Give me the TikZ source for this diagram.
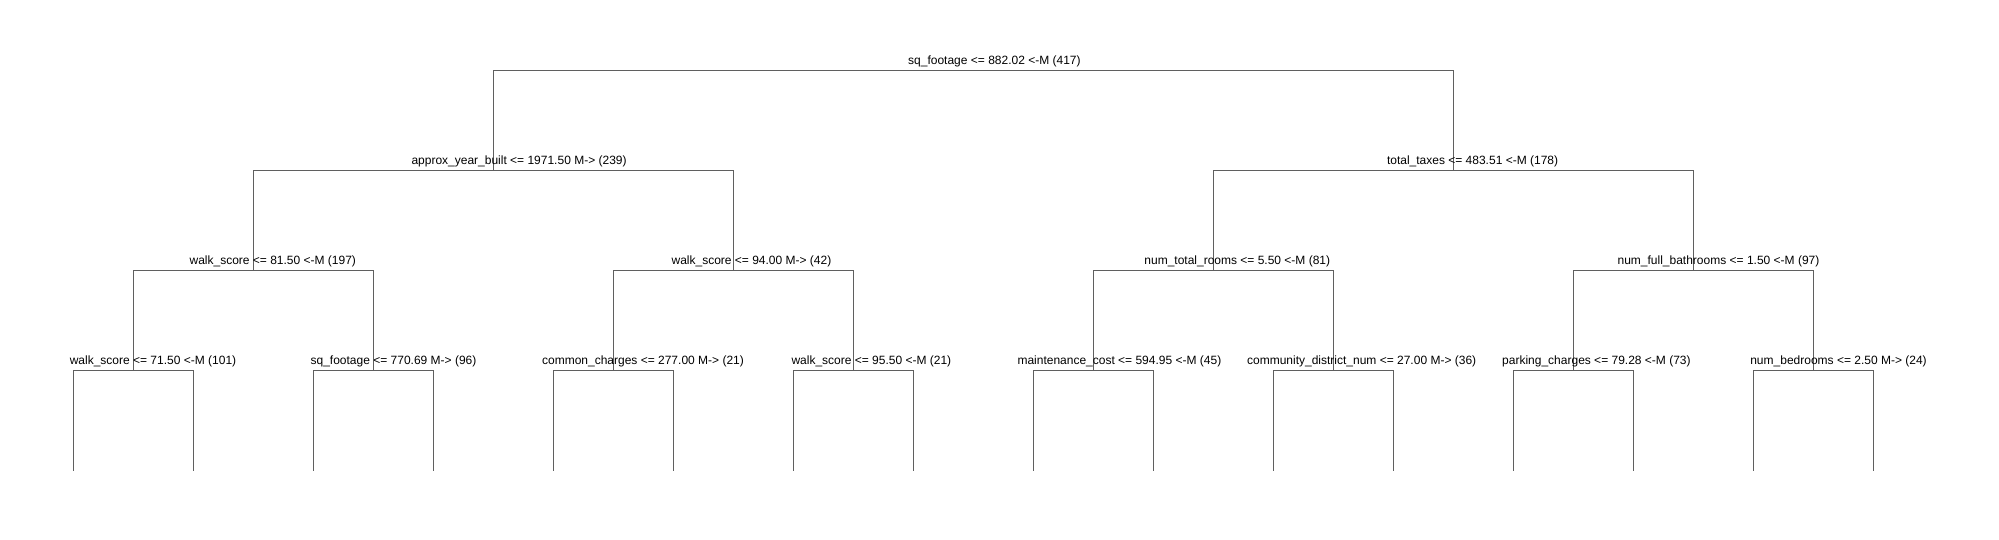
\documentclass[tikz,border=0pt]{standalone}
\usepackage{fontspec}
\setmainfont{Liberation Sans}
\definecolor{edgegray}{RGB}{95,95,95}
\begin{document}
\begin{tikzpicture}[x=1pt,y=-1pt,
  edge/.style={draw=edgegray,line width=1pt},
  lbl/.style={anchor=base west,inner sep=0pt,outer sep=0pt,font=\fontsize{12}{14}\selectfont,text=black}]
\useasboundingbox (0,0) rectangle (1999,540);
% levels
\def\ya{70.7}\def\yb{170.7}\def\yc{270.7}\def\yd{370.7}\def\ye{470.5}
% tree points
\coordinate (r) at (973.3,\ya);
\coordinate (a1) at (493.3,\yb);
\coordinate (a2) at (1453.3,\yb);
\foreach \i in {1,...,4}{\coordinate (b\i) at ({253.3+480*(\i-1)},\yc);}
\foreach \i in {1,...,8}{\coordinate (c\i) at ({133.3+240*(\i-1)},\yd);}
\foreach \i in {1,...,16}{\coordinate (e\i) at ({73.3+120*(\i-1)},\ye);}
% connectors
\draw[edge] (a1) |- (r) -| (a2);
\draw[edge] (b1) |- (a1) -| (b2);
\draw[edge] (b3) |- (a2) -| (b4);
\draw[edge] (c1) |- (b1) -| (c2);
\draw[edge] (c3) |- (b2) -| (c4);
\draw[edge] (c5) |- (b3) -| (c6);
\draw[edge] (c7) |- (b4) -| (c8);
\foreach \i [evaluate=\i as \l using int(2*\i-1), evaluate=\i as \rr using int(2*\i)] in {1,...,8}{
  \draw[edge] (e\l) |- (c\i) -| (e\rr);
}
% labels
\node[lbl] (lr) at (908.2,\ya-6.5) {sq\_footage <= 882.02 <-M (417)};
\node[lbl] (la1) at (411.5,\yb-6.5) {approx\_year\_built <= 1971.50 M-> (239)};
\node[lbl] (la2) at (1387.0,\yb-6.5) {total\_taxes <= 483.51 <-M (178)};
\node[lbl] (lb1) at (189.6,\yc-6.5) {walk\_score <= 81.50 <-M (197)};
\node[lbl] (lb2) at (671.6,\yc-6.5) {walk\_score <= 94.00 M-> (42)};
\node[lbl] (lb3) at (1144.4,\yc-6.5) {num\_total\_rooms <= 5.50 <-M (81)};
\node[lbl] (lb4) at (1617.6,\yc-6.5) {num\_full\_bathrooms <= 1.50 <-M (97)};
\node[lbl] (lc1) at (69.8,\yd-6.5) {walk\_score <= 71.50 <-M (101)};
\node[lbl] (lc2) at (310.6,\yd-6.5) {sq\_footage <= 770.69 M-> (96)};
\node[lbl] (lc3) at (542.1,\yd-6.5) {common\_charges <= 277.00 M-> (21)};
\node[lbl] (lc4) at (791.5,\yd-6.5) {walk\_score <= 95.50 <-M (21)};
\node[lbl] (lc5) at (1017.5,\yd-6.5) {maintenance\_cost <= 594.95 <-M (45)};
\node[lbl] (lc6) at (1247.1,\yd-6.5) {community\_district\_num <= 27.00 M-> (36)};
\node[lbl] (lc7) at (1502.2,\yd-6.5) {parking\_charges <= 79.28 <-M (73)};
\node[lbl] (lc8) at (1750.3,\yd-6.5) {num\_bedrooms <= 2.50 M-> (24)};
\end{tikzpicture}
\end{document}
